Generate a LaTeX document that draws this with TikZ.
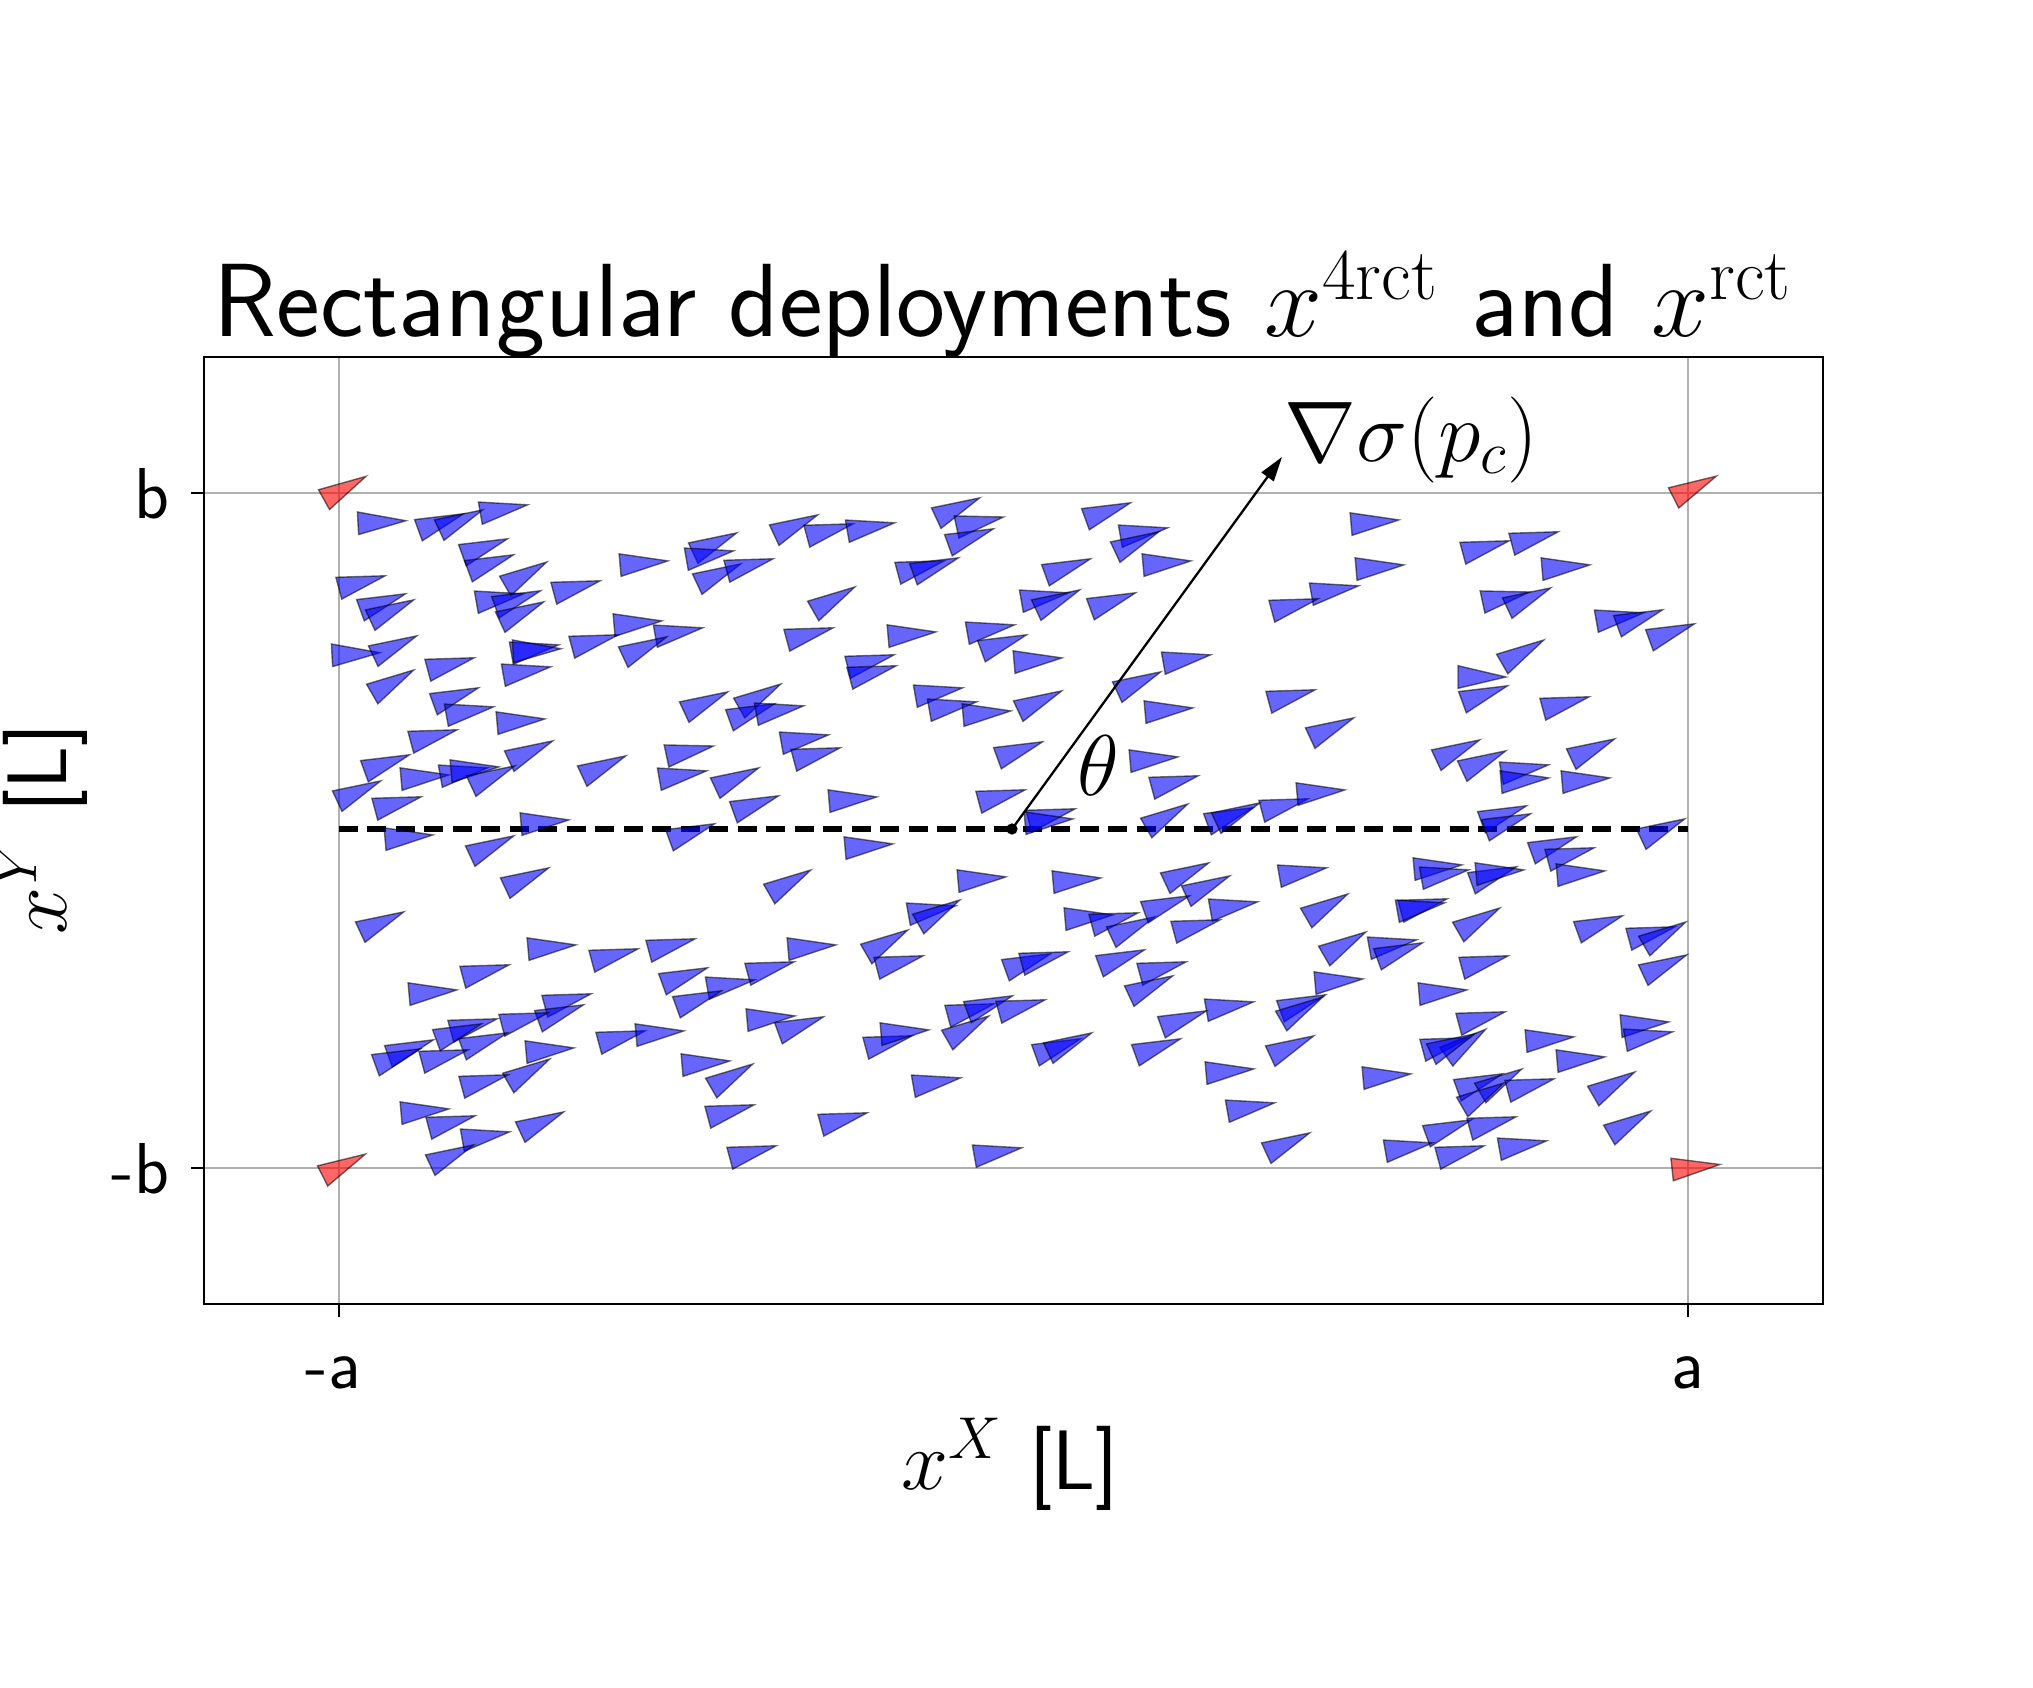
\RequirePackage{fix-cm}
\documentclass[tikz,border=0pt]{standalone}
\usetikzlibrary{arrows.meta}
\tikzset{
  bluetri/.style={fill=blue, fill opacity=0.6, draw=black, draw opacity=0.55, line width=0.4pt},
  redtri/.style={fill=red, fill opacity=0.6, draw=black, draw opacity=0.55, line width=0.4pt},
  gridln/.style={draw={rgb,255:red,176;green,176;blue,176}, line width=0.55pt},
  frame/.style={draw=black, line width=0.75pt},
  tickmk/.style={draw=black, line width=0.75pt},
  centerline/.style={draw=black, line width=1.6pt, dash pattern=on 5.4pt off 2.7pt},
  gradarrow/.style={draw=black, line width=0.65pt, -{Triangle[length=7pt,width=4.2pt]}},
  ticklbl/.style={font=\sffamily\fontsize{20.5}{24}\selectfont, inner sep=0pt},
  axlbl/.style={font=\sffamily\fontsize{24}{29}\selectfont, inner sep=0pt},
  mathlbl/.style={font=\fontsize{24.5}{29}\selectfont, inner sep=0pt},
  titlelbl/.style={font=\sffamily\fontsize{29.6}{35}\selectfont, inner sep=0pt}
}
\newcommand{\tri}[4]{\filldraw[#4,shift={(#1,#2)},rotate=#3] (24,0) -- (-24,11.3) -- (-24,-11.3) -- cycle;}
\begin{document}
\begin{tikzpicture}[x={(0.01cm,0)},y={(0,-0.01cm)}]
\useasboundingbox[fill=white] (0,0) rectangle (2033,1688);
% grid
\draw[gridln] (339,357) -- (339,1304);
\draw[gridln] (1688,357) -- (1688,1304);
\draw[gridln] (204,493) -- (1823,493);
\draw[gridln] (204,1168) -- (1823,1168);
% dashed horizontal line through p_c
\coordinate (dl) at (339,829);
\coordinate (dr) at (1688,829);
\draw[centerline] (dl) -- (dr);
% blue triangles
\foreach \x/\y/\a in {
382/522/3,441/522/20,461/520/25,504/509/10,485/547/20,491/563/20,362/582/15,383/602/20,392/610/25,
526/574/30,500/598/10,518/599/20,522/612/25,577/587/15,644/563/5,715/543/25,710/555/10,719/574/25,
750/565/15,796/525/25,830/530/15,871/527/10,958/508/25,980/522/12,971/537/20,921/567/15,936/566/20,
834/599/30,810/634/15,912/634/5,991/629/10,1004/643/20,871/661/15,873/672/15,356/654/3,395/646/25,
451/664/15,393/682/30,535/649/10,537/650/3,527/671/10,595/641/15,638/623/5,679/632/10,645/647/25,
456/696/20,470/711/10,521/721/5,706/702/25,760/696/30,752/712/20,780/710/10,939/692/10,953/706/10,987/713/5,
1108/511/20,1144/532/10,1137/542/25,1068/567/20,1167/563/5,1045/597/10,1058/600/25,1113/601/20,
1038/660/5,1040/701/25,1187/659/10,1139/682/25,1169/710/5,1292/696/15,1375/522/5,1486/547/15,
1535/538/15,1380/567/5,1335/590/10,1295/605/15,1566/567/5,1506/597/12,1529/598/25,1620/617/10,
1640/618/20,1672/632/20,1523/652/30,1482/677/0,1485/694/20,1566/703/15,
434/736/15,805/739/10,817/754/15,387/763/20,531/751/25,425/777/5,464/772/10,475/769/5,493/776/25,
359/791/25,398/803/15,604/766/25,690/751/12,683/775/10,737/778/25,756/804/20,853/799/5,1002/796/15,
1020/750/20,545/822/5,409/837/5,492/846/25,692/832/20,869/846/5,527/878/25,790/882/30,982/879/5,
932/910/10,939/912/30,382/922/25,552/947/5,615/955/15,672/945/15,812/947/5,887/942/30,
1332/728/25,1154/759/5,1175/782/15,1052/815/15,1049/821/5,1167/816/30,1230/816/20,1238/813/25,
1285/805/15,1321/792/5,1458/750/25,1484/761/25,1525/769/10,1525/780/5,1593/749/25,1586/780/5,
1504/814/20,1508/822/20,1663/829/25,1554/845/20,1571/854/15,1581/873/5,1077/880/5,1187/873/25,
1208/886/25,1303/872/10,1438/867/5,1445/874/10,1494/875/20,1500/872/5,1089/917/5,1115/919/15,
1133/927/25,1167/904/20,1234/906/10,1197/926/15,1327/906/30,1424/905/15,1421/907/10,1479/920/30,
1600/924/20,1652/933/15,1665/934/30,1345/944/30,1393/944/10,1400/951/20,
486/971/15,685/976/20,771/968/15,900/962/15,433/992/5,731/984/10,699/999/20,568/1000/15,561/1013/20,
525/1019/15,474/1025/15,459/1032/20,485/1041/20,411/1048/20,398/1057/20,445/1056/15,550/1050/5,
529/1071/30,485/1081/15,622/1037/15,660/1033/5,771/1018/5,801/1025/20,706/1063/5,732/1076/30,
731/1111/15,844/1119/15,937/1082/10,889/1042/15,905/1032/5,971/1010/15,990/1004/20,968/1028/30,
1022/1006/15,425/1111/5,452/1122/15,486/1136/10,452/1155/25,542/1122/25,753/1152/15,998/1152/10,
1028/962/20,1045/958/15,1122/958/20,1163/968/15,1485/962/15,1665/965/25,1151/986/25,1339/981/5,
1303/1003/20,1302/1009/30,1443/992/5,1230/1006/10,1184/1019/20,1058/1047/20,1070/1043/25,1158/1047/20,
1292/1046/25,1482/1018/15,1446/1044/15,1466/1043/35,1453/1044/25,1550/1039/5,1581/1059/5,1645/1024/5,
1649/1036/10,1230/1071/5,1387/1076/5,1480/1082/20,1501/1081/30,1483/1095/30,1531/1085/15,1614/1084/30,
1251/1107/10,1288/1143/25,1449/1128/20,1493/1123/15,1409/1147/10,1461/1152/15,1523/1145/10,1630/1123/30
}{\tri{\x}{\y}{\a}{bluetri}}
% red corner triangles
\tri{345}{488}{29}{redtri}
\tri{1695}{487}{27}{redtri}
\tri{344}{1165}{27}{redtri}
\tri{1696}{1167}{6}{redtri}
% gradient arrow
\coordinate (pc) at (1012,829);
\coordinate (gtip) at (1282,457);
\draw[gradarrow] (pc) -- (gtip);
\fill[black] (pc) circle[radius=1.6pt];
\node[mathlbl, anchor=base west] (grad) at (1284,461) {$\nabla\sigma(p_c)$};
\node[mathlbl] (theta) at (1098,766) {$\theta$};
% frame
\draw[frame] (204,357) rectangle (1823,1304);
% ticks
\draw[tickmk] (339,1304) -- (339,1317);
\draw[tickmk] (1688,1304) -- (1688,1317);
\draw[tickmk] (204,493) -- (191,493);
\draw[tickmk] (204,1168) -- (191,1168);
% tick labels
\node[ticklbl, anchor=base] (xtl1) at (333,1388) {-a};
\node[ticklbl, anchor=base] (xtl2) at (1688,1388) {a};
\node[ticklbl, anchor=base east] (ytl1) at (170,518) {b};
\node[ticklbl, anchor=base east] (ytl2) at (170,1193) {-b};
% axis labels
\node[axlbl, anchor=base] (xlab) at (1010,1489) {$x^X$ [L]};
\node[axlbl, anchor=base, rotate=90] (ylab) at (67,829) {$x^Y$ [L]};
% title
\node[titlelbl, anchor=base] (title) at (1003,337) {Rectangular deployments $x^{\mathrm{4rct}}$ and $x^{\mathrm{rct}}$};
\end{tikzpicture}
\end{document}
